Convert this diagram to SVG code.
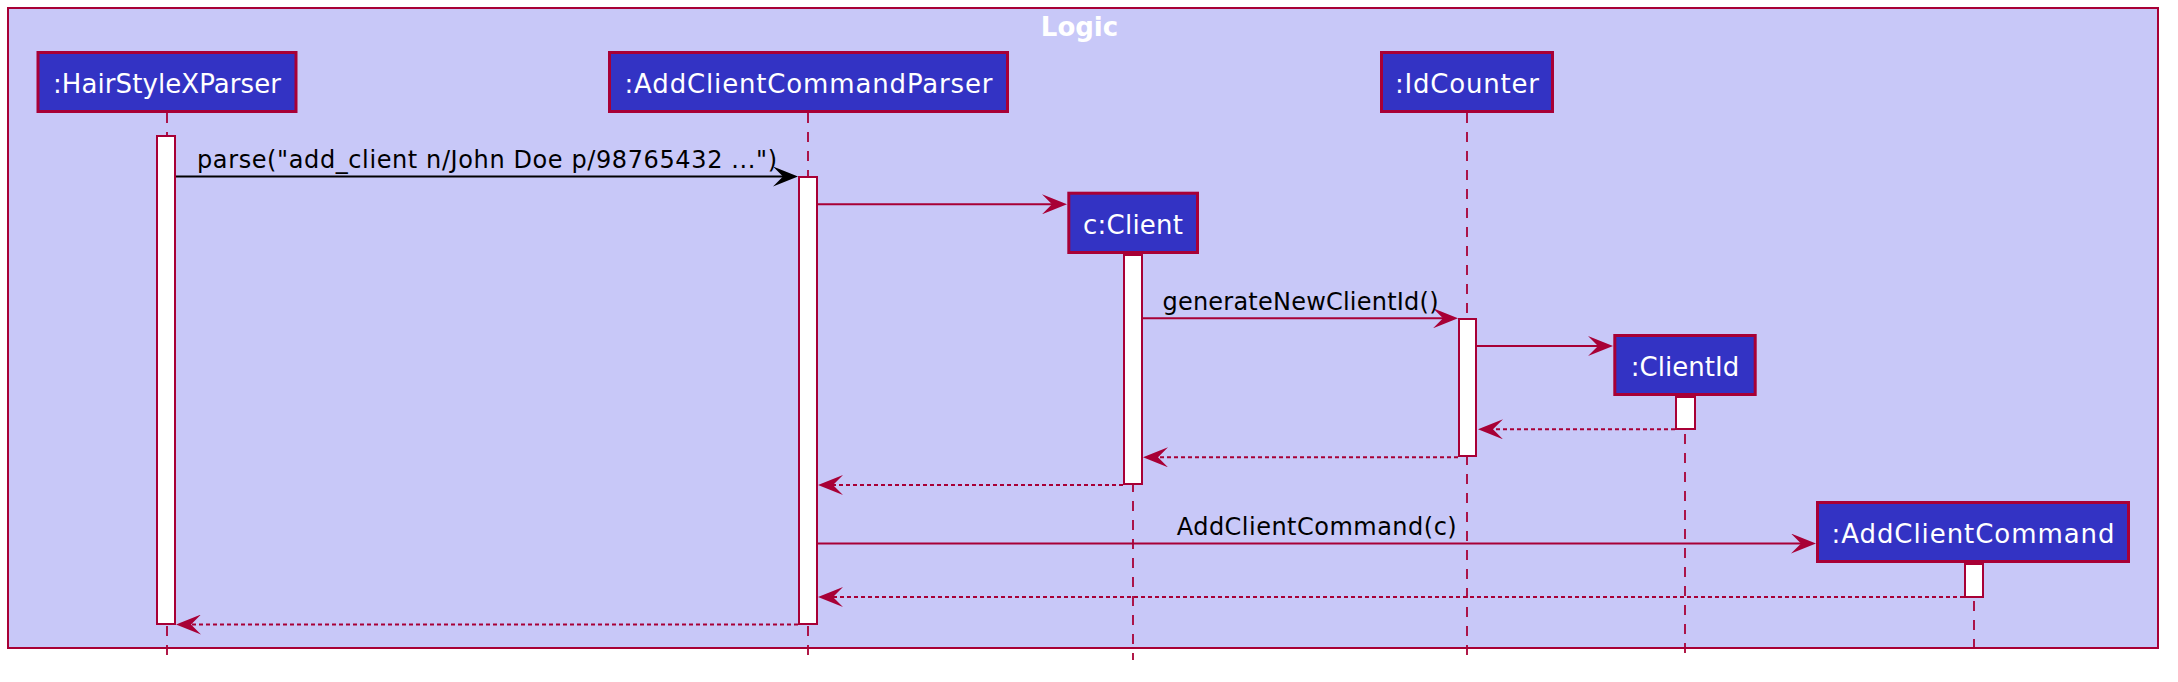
<svg xmlns="http://www.w3.org/2000/svg" width="2178" height="682" viewBox="0 0 2178 682">
<style>
.frame{fill:#C8C8F8;stroke:#A80036;stroke-width:2}
.title{font-family:"DejaVu Sans","Liberation Sans",sans-serif;font-size:26px;font-weight:bold;fill:#FFFFFF}
.part{fill:#3333C4;stroke:#A80036;stroke-width:3}
.plabel{font-family:"DejaVu Sans","Liberation Sans",sans-serif;font-size:26px;fill:#FFFFFF;text-anchor:middle}
.life{stroke:#A80036;stroke-width:1.8;stroke-dasharray:10,9;fill:none}
.act{fill:#FFFFFF;stroke:#A80036;stroke-width:2}
.msg{stroke:#A80036;stroke-width:2;fill:none;marker-end:url(#ah)}
.msgb{stroke:#000000;stroke-width:2;fill:none;marker-end:url(#ahb)}
.ret{stroke:#A80036;stroke-width:2;stroke-dasharray:4,3;fill:none;marker-end:url(#ah)}
.mlabel{font-family:"DejaVu Sans","Liberation Sans",sans-serif;font-size:24px;fill:#000000;text-anchor:middle}
</style>
<defs>
<marker id="ah" viewBox="0 0 25 20" refX="15" refY="10" markerWidth="25" markerHeight="20" markerUnits="userSpaceOnUse" orient="auto">
<path d="M0,0 L25,10 L0,20 L10,10 Z" fill="#A80036"/>
</marker>
<marker id="ahb" viewBox="0 0 25 20" refX="15" refY="10" markerWidth="25" markerHeight="20" markerUnits="userSpaceOnUse" orient="auto">
<path d="M0,0 L25,10 L0,20 L10,10 Z" fill="#000000"/>
</marker>
</defs>

<g id="logic-frame">
<rect class="frame" x="8" y="8" width="2150" height="640"/>
<text class="title" x="1079.5" y="36" text-anchor="middle">Logic</text>
</g>

<g id="lifelines">
<line class="life" x1="167" y1="113" x2="167" y2="660"/>
<line class="life" x1="808" y1="113" x2="808" y2="660"/>
<line class="life" x1="1467" y1="113" x2="1467" y2="660"/>
<line class="life" x1="1133" y1="254" x2="1133" y2="660"/>
<line class="life" x1="1685" y1="396" x2="1685" y2="660"/>
<line class="life" x1="1974" y1="563" x2="1974" y2="652"/>
</g>

<g id="HairStyleXParser">
<rect class="part" x="38" y="52.5" width="258" height="59"/>
<text class="plabel" x="167" y="93" textLength="228">:HairStyleXParser</text>
<rect class="act" x="157" y="136" width="18" height="488"/>
</g>

<g id="AddClientCommandParser">
<rect class="part" x="609.5" y="52.5" width="398" height="59"/>
<text class="plabel" x="808.5" y="93" textLength="368">:AddClientCommandParser</text>
<rect class="act" x="799" y="177" width="18" height="447"/>
</g>

<g id="IdCounter">
<rect class="part" x="1381.5" y="52.5" width="171" height="59"/>
<text class="plabel" x="1467" y="93" textLength="144">:IdCounter</text>
<rect class="act" x="1459" y="319" width="17" height="137"/>
</g>

<g id="Client">
<rect class="part" x="1068.8" y="193.2" width="128.7" height="59.3"/>
<text class="plabel" x="1133" y="234" textLength="100">c:Client</text>
<rect class="act" x="1124" y="255" width="18" height="229"/>
</g>

<g id="ClientId">
<rect class="part" x="1614.8" y="335.5" width="140.4" height="59"/>
<text class="plabel" x="1685" y="375.5" textLength="108.7">:ClientId</text>
<rect class="act" x="1676" y="397" width="19" height="32"/>
</g>

<g id="AddClientCommand">
<rect class="part" x="1817.5" y="502.5" width="311" height="59"/>
<text class="plabel" x="1973" y="543" textLength="283">:AddClientCommand</text>
<rect class="act" x="1965" y="564" width="18" height="33"/>
</g>

<g id="connectors">
<line class="msgb" x1="176" y1="176.5" x2="788" y2="176.5"/>
<text class="mlabel" x="487" y="168" textLength="580">parse("add_client n/John Doe p/98765432 ...")</text>
<line class="msg" x1="818" y1="204.3" x2="1057" y2="204.3"/>
<line class="msg" x1="1143" y1="318.3" x2="1448" y2="318.3"/>
<text class="mlabel" x="1300.5" y="309.5" textLength="276">generateNewClientId()</text>
<line class="msg" x1="1477" y1="346" x2="1603" y2="346"/>
<line class="ret" x1="1675" y1="429.3" x2="1488" y2="429.3"/>
<line class="ret" x1="1458" y1="457.3" x2="1153" y2="457.3"/>
<line class="ret" x1="1123" y1="485" x2="828" y2="485"/>
<line class="msg" x1="818" y1="543.5" x2="1806" y2="543.5"/>
<text class="mlabel" x="1316.7" y="535" textLength="280">AddClientCommand(c)</text>
<line class="ret" x1="1964" y1="597" x2="828" y2="597"/>
<line class="ret" x1="798" y1="624.5" x2="186" y2="624.5"/>
</g>
</svg>
